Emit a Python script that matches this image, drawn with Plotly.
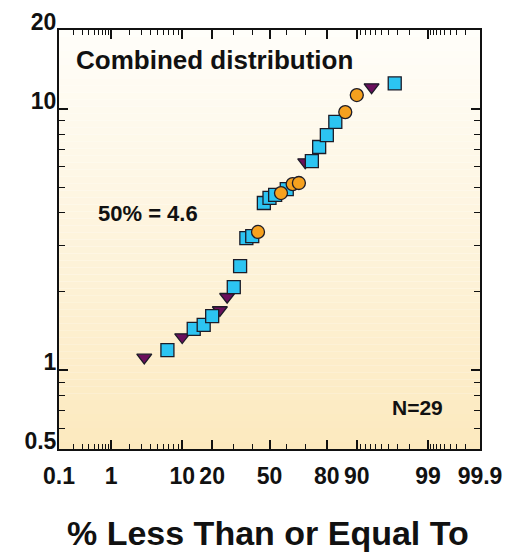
import plotly.graph_objects as go
from statistics import NormalDist

# ---- data (percent less than or equal to, value) ----
tri_pct = [3.3, 10.0, 23.3, 26.7, 70.0, 93.3]
tri_val = [1.12, 1.34, 1.70, 1.91, 6.25, 12.1]

sq_pct = [6.7, 13.3, 16.7, 20.0, 30.0, 33.3, 36.7, 40.0, 46.7, 50.0, 53.3,
          60.0, 73.3, 76.7, 80.0, 83.3, 96.7]
sq_val = [1.195, 1.44, 1.49, 1.61, 2.08, 2.50, 3.20, 3.26, 4.36, 4.56, 4.68,
          4.93, 6.30, 7.14, 7.93, 8.90, 12.5]

circ_pct = [43.3, 56.7, 63.3, 66.7, 86.7, 90.0]
circ_val = [3.38, 4.76, 5.15, 5.20, 9.71, 11.28]

x_major = [0.1, 1, 10, 20, 50, 80, 90, 99, 99.9]
x_major_text = ["0.1", "1", "10", "20", "50", "80", "90", "99", "99.9"]
x_minor = [0.2, 0.3, 0.4, 0.5, 0.6, 0.7, 0.8, 0.9,
           2, 3, 4, 5, 6, 7, 8, 9, 30, 40, 60, 70,
           91, 92, 93, 94, 95, 96, 97, 98,
           99.1, 99.2, 99.3, 99.4, 99.5, 99.6, 99.7, 99.8]
y_major = [0.5, 1, 10, 20]
y_major_text = ["0.5", "1", "10", "20"]
y_minor = [0.6, 0.7, 0.8, 0.9, 2, 3, 4, 5, 6, 7, 8, 9]

nd = NormalDist()
def zq(p):
    return nd.inv_cdf(p / 100.0)

FONT = "Liberation Sans, Arial, Helvetica, sans-serif"
edge = dict(color="#1c1c28", width=1.3)

fig = go.Figure()
fig.add_trace(go.Scatter(
    x=[zq(p) for p in tri_pct], y=tri_val, mode="markers",
    marker=dict(symbol="triangle-down", size=13, color="#6a0f5c", line=edge),
    showlegend=False))
fig.add_trace(go.Scatter(
    x=[zq(p) for p in sq_pct], y=sq_val, mode="markers",
    marker=dict(symbol="square", size=13, color="#2cc4f2", line=edge),
    showlegend=False))
fig.add_trace(go.Scatter(
    x=[zq(p) for p in circ_pct], y=circ_val, mode="markers",
    marker=dict(symbol="circle", size=13, color="#f6a11e", line=edge),
    showlegend=False))

# gradient background inside plot area
nb = 60
top = (255, 254, 250)
bot = (252, 233, 190)
shapes = []
for i in range(nb):
    t = (i + 0.5) / nb  # 0 bottom -> 1 top
    c = tuple(round(bot[k] + (top[k] - bot[k]) * t) for k in range(3))
    shapes.append(dict(type="rect", xref="x domain", yref="y domain",
                       x0=0, x1=1, y0=i / nb, y1=(i + 1) / nb,
                       fillcolor="rgb(%d,%d,%d)" % c, line=dict(width=0),
                       layer="below"))

tickfont = dict(family=FONT, size=23, color="#111111", weight="bold")

fig.update_layout(
    width=505, height=553,
    margin=dict(l=59, r=25, t=30, b=104),
    paper_bgcolor="white", plot_bgcolor="white",
    shapes=shapes,
    xaxis=dict(
        range=[zq(0.1), zq(99.9)], tickmode="array",
        tickvals=[zq(p) for p in x_major], ticktext=x_major_text,
        ticks="inside", ticklen=9, tickwidth=1.5, tickcolor="#111",
        minor=dict(tickmode="array", tickvals=[zq(p) for p in x_minor],
                   ticks="inside", ticklen=5, tickwidth=1.2, tickcolor="#111"),
        showline=True, linecolor="#111", linewidth=2, mirror="ticks",
        showgrid=False, zeroline=False, tickfont=tickfont,
        ticklabelstandoff=5, automargin=False),
    yaxis=dict(
        type="log", range=[-0.30103, 1.30103], tickmode="array",
        tickvals=y_major, ticktext=y_major_text,
        ticks="inside", ticklen=9, tickwidth=1.5, tickcolor="#111",
        minor=dict(tickmode="array", tickvals=y_minor,
                   ticks="inside", ticklen=6, tickwidth=1.2, tickcolor="#111"),
        showline=True, linecolor="#111", linewidth=2, mirror="ticks",
        showgrid=False, zeroline=False, tickfont=tickfont,
        ticklabelstandoff=-4, ticklabelshift=-8, automargin=False),
    annotations=[
        dict(text="Combined distribution", xref="x domain", yref="y domain",
             x=0.036, y=0.928, xanchor="left", yanchor="middle",
             showarrow=False,
             font=dict(family=FONT, size=26, color="#111", weight="bold")),
        dict(text="50% = 4.6", xref="x domain", yref="y domain",
             x=0.088, y=0.563, xanchor="left", yanchor="middle",
             showarrow=False,
             font=dict(family=FONT, size=22, color="#111", weight="bold")),
        dict(text="N=29", xref="x domain", yref="y domain",
             x=0.787, y=0.100, xanchor="left", yanchor="middle",
             showarrow=False,
             font=dict(family=FONT, size=21, color="#111", weight="bold")),
        dict(text="% Less Than or Equal To", xref="x domain", yref="paper",
             x=0.497, y=-0.200, xanchor="center", yanchor="middle",
             showarrow=False,
             font=dict(family=FONT, size=34, color="#111", weight="bold")),
    ],
)

fig.write_html("out.html")
